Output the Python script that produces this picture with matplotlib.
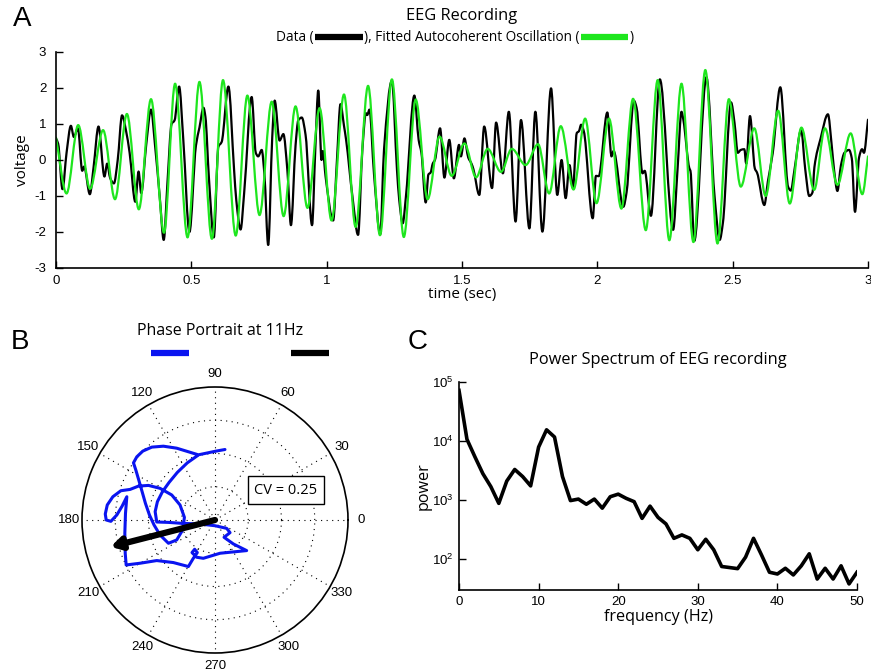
import numpy as np
import matplotlib
matplotlib.use("Agg")
import matplotlib.pyplot as plt
from matplotlib.offsetbox import TextArea, DrawingArea, HPacker, AnnotationBbox
from matplotlib.lines import Line2D
from matplotlib.path import Path
from matplotlib.patches import PathPatch

plt.rcParams['font.family'] = ['Liberation Sans', 'DejaVu Sans']
LABEL_FONT = ['Open Sans', 'DejaVu Sans']
GREEN = '#1ee61e'
BLUE = '#0a14f0'

# EEG trace (sec, volts)
eeg_t = [0.000, 0.008, 0.024, 0.039, 0.055, 0.066, 0.081, 0.097, 0.104, 0.125,
         0.139, 0.157, 0.179, 0.189, 0.200, 0.214, 0.228, 0.244, 0.259, 0.272,
         0.293, 0.305, 0.315, 0.333, 0.351, 0.366, 0.383, 0.398, 0.412, 0.427,
         0.438, 0.455, 0.470, 0.493, 0.517, 0.530, 0.545, 0.552, 0.565, 0.583,
         0.600, 0.612, 0.637, 0.658, 0.666, 0.682, 0.695, 0.723, 0.738, 0.747,
         0.760, 0.770, 0.784, 0.799, 0.808, 0.826, 0.840, 0.855, 0.868, 0.885,
         0.895, 0.908, 0.922, 0.946, 0.958, 0.969, 0.981, 0.986, 0.996, 1.024,
         1.038, 1.051, 1.064, 1.072, 1.095, 1.116, 1.132, 1.145, 1.150, 1.158,
         1.175, 1.198, 1.212, 1.241, 1.260, 1.268, 1.281, 1.293, 1.324, 1.340,
         1.350, 1.366, 1.376, 1.384, 1.392, 1.400, 1.419, 1.435, 1.453, 1.470,
         1.489, 1.496, 1.509, 1.523, 1.535, 1.542, 1.564, 1.582, 1.611, 1.626,
         1.651, 1.673, 1.698, 1.718, 1.749, 1.771, 1.797, 1.829, 1.852, 1.868,
         1.883, 1.897, 1.910, 1.924, 1.932, 1.940, 1.950, 1.983, 1.995, 2.005,
         2.037, 2.047, 2.052, 2.060, 2.096, 2.108, 2.135, 2.145, 2.167, 2.175,
         2.198, 2.231, 2.280, 2.296, 2.311, 2.318, 2.340, 2.344, 2.358, 2.403,
         2.433, 2.452, 2.464, 2.494, 2.507, 2.519, 2.530, 2.543, 2.550, 2.564,
         2.582, 2.590, 2.617, 2.630, 2.648, 2.676, 2.705, 2.715, 2.728, 2.753,
         2.768, 2.783, 2.795, 2.802, 2.825, 2.852, 2.866, 2.875, 2.887, 2.900,
         2.913, 2.930, 2.940, 2.952, 2.967, 2.978, 2.985, 3.000]
eeg_v = [0.60, 0.45, -0.81, 0.20, 0.95, 0.64, 0.88, -0.30, -0.18, -0.95,
         -0.19, 0.93, -0.46, -0.10, -0.50, -0.65, 0.00, 1.24, 0.80, 0.20,
         -1.16, -0.32, -0.92, 0.40, 1.40, 0.40, -1.00, -2.22, -0.60, 1.00,
         1.10, 2.04, 0.60, -2.00, 0.40, 0.90, 1.45, 1.20, -0.50, -2.15,
         0.37, 0.50, 2.04, -0.28, -1.11, -1.93, -0.93, 1.75, 0.20, 0.10,
         0.28, -0.40, -2.36, 0.65, 1.65, 0.54, 0.72, -0.30, -1.81, 0.40,
         1.10, 1.18, 0.70, -1.81, 0.30, 1.93, 0.00, 0.25, -0.46, -1.68,
         0.00, 1.55, 0.95, 0.55, -1.00, -2.08, 0.30, 1.30, 1.25, 1.40,
         -0.40, -2.06, 0.30, 2.20, -0.30, -1.10, -1.76, -1.00, 1.79, 0.55,
         0.20, -1.18, -0.40, -0.35, -0.10, 0.00, 0.88, -0.49, 0.56, -0.51,
         0.42, 0.10, 0.60, 0.07, -0.10, -0.25, -0.97, 0.93, -0.78, 1.04,
         -0.37, 1.34, -1.71, 1.11, -1.90, 1.34, -1.99, 1.99, -0.97, 0.00,
         -1.06, -0.14, -0.77, 0.75, 0.80, 0.98, 0.80, -1.62, -0.44, -0.45,
         1.32, 0.46, 0.10, 0.25, -1.30, -0.90, 1.65, 1.45, -0.37, -0.30,
         -1.55, 2.24, -1.94, -0.30, 1.34, 1.11, -0.23, -0.30, -2.25, 2.30,
         -1.00, -2.22, -1.74, 1.60, 1.02, 0.20, 0.28, 0.30, -0.10, 1.22,
         -0.24, -0.35, -1.25, -0.60, 0.19, 2.02, -0.75, -0.85, -0.29, 0.83,
         -0.25, -1.00, -0.90, -0.20, 0.60, 1.27, 0.40, -0.30, -0.86, -0.15,
         0.20, 0.28, 0.05, -1.44, 0.07, 0.30, 0.20, 1.12]

# fitted autocoherent oscillation, turning points
fit_t = [0.000, 0.039, 0.082, 0.126, 0.174, 0.218, 0.262, 0.306, 0.351, 0.399,
         0.440, 0.486, 0.530, 0.576, 0.617, 0.664, 0.707, 0.752, 0.797, 0.841,
         0.885, 0.929, 0.974, 1.018, 1.064, 1.107, 1.153, 1.197, 1.241, 1.285,
         1.329, 1.373, 1.417, 1.462, 1.509, 1.552, 1.595, 1.644, 1.684, 1.735,
         1.781, 1.822, 1.865, 1.912, 1.955, 1.997, 2.043, 2.089, 2.132, 2.179,
         2.223, 2.266, 2.311, 2.355, 2.399, 2.444, 2.486, 2.530, 2.580, 2.622,
         2.668, 2.711, 2.754, 2.801, 2.841, 2.887, 2.936, 2.979, 3.000]
fit_v = [0.62, -0.93, 0.97, -0.80, 0.83, -1.09, 1.28, -1.37, 1.69, -2.02,
         2.12, -2.15, 2.17, -2.19, 2.22, -2.10, 1.79, -1.53, 1.62, -1.56,
         1.49, -1.33, 1.44, -1.68, 1.82, -1.86, 2.06, -2.09, 2.24, -2.14,
         1.68, -1.09, 0.65, -0.44, 0.46, -0.48, 0.31, -0.33, 0.31, -0.14,
         0.44, -0.93, 0.94, -0.82, 1.15, -1.20, 1.15, -1.35, 1.70, -1.95,
         2.22, -2.23, 2.12, -2.28, 2.50, -2.32, 1.69, -0.74, 0.88, -1.00,
         1.37, -1.21, 0.90, -0.83, 0.88, -0.69, 0.74, -0.95, 0.10]

# 11 Hz phase trajectory (x, y relative to the unit circle)
phase_x = [0.075, 0.008, -0.063, -0.125, -0.200, -0.288, -0.388, -0.475, -0.543, -0.588,
           -0.613, -0.595, -0.573, -0.548, -0.523, -0.493, -0.458, -0.413, -0.350, -0.288,
           -0.243, -0.230, -0.263, -0.325, -0.413, -0.500, -0.575, -0.638, -0.708, -0.768,
           -0.810, -0.825, -0.818, -0.783, -0.738, -0.698, -0.663, -0.673, -0.678, -0.675,
           -0.668, -0.563, -0.438, -0.313, -0.200, -0.163, -0.133, -0.153, -0.173, -0.138,
           -0.088, 0.038, 0.238, 0.138, 0.068, 0.113, 0.088, 0.000, -0.113, -0.250,
           -0.350, -0.438, -0.450, -0.433, -0.395, -0.345, -0.283, -0.208, -0.133]
phase_y = [0.530, 0.518, 0.503, 0.490, 0.513, 0.540, 0.555, 0.548, 0.518, 0.475,
           0.430, 0.375, 0.300, 0.213, 0.125, 0.038, -0.038, -0.113, -0.175, -0.150,
           -0.075, 0.020, 0.113, 0.188, 0.238, 0.260, 0.255, 0.230, 0.220, 0.175,
           0.113, 0.045, 0.000, -0.010, 0.038, 0.105, 0.175, 0.050, -0.100, -0.250,
           -0.338, -0.325, -0.305, -0.320, -0.350, -0.288, -0.245, -0.220, -0.245, -0.280,
           -0.288, -0.250, -0.230, -0.180, -0.130, -0.095, -0.063, -0.043, -0.030, -0.025,
           -0.018, -0.015, 0.063, 0.138, 0.213, 0.283, 0.358, 0.430, 0.483]
mean_phase_deg = 194.4
mean_length = 0.81

# power spectrum
freq = np.arange(0, 51)
power = [72000, 10700, 5400, 2800, 1690, 880, 2100, 3300, 2500, 1740,
         7900, 15500, 11700, 2500, 980, 1040, 850, 1040, 730, 1140,
         1260, 1070, 940, 490, 790, 510, 395, 225, 257, 225,
         144, 217, 144, 75, 72, 69, 108, 225, 118, 60,
         56, 70, 54, 77, 123, 46, 70, 46, 77, 38, 60]


def smooth_trace(ax, x, y, **kw):
    """Draw a monotone cubic (pchip-style) bezier path through the points."""
    x = np.asarray(x, float)
    y = np.asarray(y, float)
    h = np.diff(x)
    d = np.diff(y) / h
    m = np.zeros_like(y)
    m[0], m[-1] = d[0], d[-1]
    for i in range(1, len(y) - 1):
        if d[i - 1] * d[i] > 0:
            w1 = 2 * h[i] + h[i - 1]
            w2 = h[i] + 2 * h[i - 1]
            m[i] = (w1 + w2) / (w1 / d[i - 1] + w2 / d[i])
    verts = [(x[0], y[0])]
    codes = [Path.MOVETO]
    for i in range(len(h)):
        verts += [(x[i] + h[i] / 3, y[i] + m[i] * h[i] / 3),
                  (x[i + 1] - h[i] / 3, y[i + 1] - m[i + 1] * h[i] / 3),
                  (x[i + 1], y[i + 1])]
        codes += [Path.CURVE4] * 3
    ax.add_patch(PathPatch(Path(verts, codes), fill=False, capstyle='round',
                           joinstyle='round', **kw))


fig = plt.figure(figsize=(8.71, 6.71), dpi=100)


def matlab_axes(ax, pad=4):
    for side in ('top', 'right'):
        ax.spines[side].set_visible(False)
    for side in ('left', 'bottom'):
        ax.spines[side].set_linewidth(1.2)
    ax.tick_params(direction='in', length=5, width=1, labelsize=9.5, pad=pad)


# --- A: EEG trace
axA = fig.add_axes([56 / 871, 1 - 268 / 671, 812 / 871, 216 / 671])
smooth_trace(axA, eeg_t, eeg_v, edgecolor='k', lw=1.6)
smooth_trace(axA, fit_t, fit_v, edgecolor=GREEN, lw=1.6)
axA.set_xlim(0, 3)
axA.set_ylim(-3, 3)
axA.set_xticks([0, 0.5, 1, 1.5, 2, 2.5, 3])
axA.set_xticklabels(['0', '0.5', '1', '1.5', '2', '2.5', '3'])
axA.set_yticks([-3, -2, -1, 0, 1, 2, 3])
axA.set_yticklabels(['-3', '-2', '-1', '0', '1', '2', '3'])
matlab_axes(axA)
axA.tick_params(axis='y', pad=7)
axA.tick_params(axis='x', pad=5)
axA.set_xlabel('time (sec)', family=LABEL_FONT, fontsize=11, labelpad=0)
axA.set_ylabel('voltage', family=LABEL_FONT, fontsize=11, labelpad=3)
fig.text(462 / 871, 1 - 16 / 671, 'EEG Recording', family=LABEL_FONT,
         fontsize=11.8, ha='center', va='center')


def legend_bar(color):
    da = DrawingArea(36, 8, 0, 0)
    da.add_artist(Line2D([1, 35], [4, 4], color=color, lw=4.5,
                         solid_capstyle='butt'))
    return da


tprops = dict(family=LABEL_FONT, fontsize=9.8)
subtitle = HPacker(children=[TextArea('Data (', textprops=tprops),
                             legend_bar('k'),
                             TextArea('), Fitted Autocoherent Oscillation (', textprops=tprops),
                             legend_bar(GREEN),
                             TextArea(')', textprops=tprops)],
                   align='center', pad=0, sep=0)
fig.add_artist(AnnotationBbox(subtitle, (455 / 871, 1 - 37 / 671),
                              xycoords='figure fraction', frameon=False,
                              box_alignment=(0.5, 0.5)))

# --- B: phase portrait
axB = fig.add_axes([82 / 871, 1 - 653 / 671, 266 / 871, 266 / 671],
                   projection='polar')
phase_theta = np.unwrap(np.arctan2(phase_y, phase_x))
axB.plot(phase_theta, np.hypot(phase_x, phase_y), color=BLUE, lw=2.2,
         solid_joinstyle='round', solid_capstyle='round')
axB.annotate('', xy=(np.deg2rad(mean_phase_deg), mean_length), xytext=(0, 0),
             arrowprops=dict(arrowstyle='-|>,head_length=0.6,head_width=0.35',
                             color='k', lw=4.5, shrinkA=0, shrinkB=0))
axB.set_rlim(0, 1)
axB.set_rticks([0.25, 0.5, 0.75])
axB.set_yticklabels([])
angles = np.arange(0, 360, 30)
axB.set_thetagrids(angles, labels=[str(a) for a in angles])
axB.grid(True, color='k', lw=0.8, linestyle=(0, (1, 4)))
axB.spines['polar'].set_linewidth(1.2)
axB.tick_params(axis='x', labelsize=9.5, pad=-1)
fig.text(286 / 871, 1 - 490 / 671, 'CV = 0.25', family=LABEL_FONT, fontsize=10.5,
         ha='center', va='center',
         bbox=dict(boxstyle='square,pad=0.45', fc='white', ec='k', lw=1))
fig.text(220 / 871, 1 - 331 / 671, 'Phase Portrait at 11Hz', family=LABEL_FONT,
         fontsize=11.5, ha='center', va='center')
fig.add_artist(Line2D([151 / 871, 189 / 871], [1 - 353 / 671] * 2,
                      color=BLUE, lw=4.5, solid_capstyle='butt'))
fig.add_artist(Line2D([291 / 871, 329 / 871], [1 - 353 / 671] * 2,
                      color='k', lw=4.5, solid_capstyle='butt'))

# --- C: power spectrum
axC = fig.add_axes([459 / 871, 1 - 590 / 671, 398 / 871, 208 / 671])
axC.semilogy(freq, power, color='k', lw=2.6)
axC.set_xlim(0, 50)
axC.set_ylim(30, 1e5)
axC.set_xticks([0, 10, 20, 30, 40, 50])
axC.set_yticks([1e2, 1e3, 1e4, 1e5])
axC.minorticks_off()
matlab_axes(axC)
axC.set_xlabel('frequency (Hz)', family=LABEL_FONT, fontsize=11.6, labelpad=1)
axC.set_ylabel('power', family=LABEL_FONT, fontsize=11.6, labelpad=0)
axC.set_title('Power Spectrum of EEG recording', family=LABEL_FONT,
              fontsize=11.8, pad=13)

for letter, x, y in (('A', 22, 19), ('B', 20, 342), ('C', 418, 342)):
    fig.text(x / 871, 1 - y / 671, letter, fontsize=20, ha='center', va='center',
             family=['Liberation Sans', 'DejaVu Sans'])

fig.savefig('out.png', dpi=100)
